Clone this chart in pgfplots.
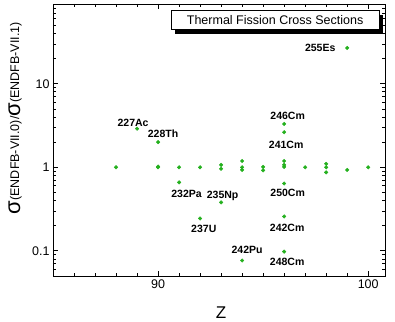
\documentclass[border=0pt]{standalone}
\usepackage{fontspec}
\setmainfont{Liberation Sans}
\usepackage{pgfplots}
\pgfplotsset{compat=1.18}
\usetikzlibrary{shadows}
\definecolor{dotgreen}{RGB}{36,176,30}
\tikzset{lab/.style={font=\bfseries\fontsize{10.5}{12}\selectfont, inner sep=0pt, anchor=center}}

\begin{document}
\begin{tikzpicture}
\useasboundingbox (-53pt,-45pt) rectangle (342pt,276pt);
\begin{axis}[
  at={(0,0)}, anchor=south west,
  scale only axis, width=332pt, height=272pt,
  xmin=85, xmax=100.8,
  ymode=log, ymin=0.05, ymax=90,
  xtick={90,100}, xticklabels={90,100},
  minor xtick={86,87,88,89,91,92,93,94,95,96,97,98,99},
  ytick={0.1,1,10}, yticklabels={0.1,1,10},
  minor ytick={0.06,0.07,0.08,0.09,0.2,0.3,0.4,0.5,0.6,0.7,0.8,0.9,2,3,4,5,6,7,8,9,20,30,40,50,60,70,80},
  tick align=inside,
  major tick length=5pt, minor tick length=3pt,
  every tick/.style={black, line width=0.7pt},
  axis line style={line width=0.9pt},
  tick label style={font=\fontsize{12.5}{14}\selectfont},
  xlabel={Z},
  xlabel style={at={(axis description cs:0.506,-0.136)}, anchor=center, font=\fontsize{17}{18}\selectfont},
  ylabel={{\fontsize{22}{22}\selectfont σ}\raisebox{1pt}{\fontsize{12.5}{13}\selectfont(ENDFB-VII.0)/}{\fontsize{22}{22}\selectfont σ}\raisebox{1pt}{\fontsize{12.5}{13}\selectfont(ENDFB-VII.1)}},
  ylabel style={at={(axis description cs:-0.114,0.58)}, anchor=center},
  clip=false,
]
\addplot[only marks, mark=*, mark size=1.8pt, color=dotgreen] coordinates {
  (88,1.0)
  (89,2.9)
  (90,2.0) (90,1.0) (90,1.02)
  (91,1.0) (91,0.66)
  (92,1.0) (92,0.244)
  (93,1.07) (93,0.96) (93,0.38)
  (94,1.19) (94,1.0) (94,0.93) (94,0.0766)
  (95,1.01) (95,0.92)
  (96,3.3) (96,2.63) (96,1.19) (96,1.07) (96,1.01) (96,0.64) (96,0.258) (96,0.098)
  (97,1.0)
  (98,1.1) (98,1.0) (98,0.87)
  (99,26.8) (99,0.93)
  (100,1.0)
};
\node[lab, xshift=-4pt, yshift=6pt] at (axis cs:89,2.9) {227Ac};
\node[lab, xshift=5pt, yshift=8.7pt] at (axis cs:90,2.0) {228Th};
\node[lab, xshift=-27pt] at (axis cs:99,26.8) {255Es};
\node[lab, xshift=3.5pt, yshift=7.6pt] at (axis cs:96,3.3) {246Cm};
\node[lab, xshift=2pt, yshift=-12.3pt] at (axis cs:96,2.63) {241Cm};
\node[lab, xshift=7.5pt, yshift=-11.6pt] at (axis cs:91,0.66) {232Pa};
\node[lab, xshift=3.7pt, yshift=-10.3pt] at (axis cs:92,0.244) {237U};
\node[lab, xshift=1.5pt, yshift=6.7pt] at (axis cs:93,0.38) {235Np};
\node[lab, xshift=3.5pt, yshift=-9pt] at (axis cs:96,0.64) {250Cm};
\node[lab, xshift=3pt, yshift=-11.6pt] at (axis cs:96,0.258) {242Cm};
\node[lab, xshift=3pt, yshift=-10pt] at (axis cs:96,0.098) {248Cm};
\node[lab, xshift=5pt, yshift=10.4pt] at (axis cs:94,0.0766) {242Pu};
\node[draw, fill=white, line width=0.8pt,
      drop shadow={shadow xshift=4pt, shadow yshift=-4pt, opacity=1, fill=black},
      minimum width=208pt, minimum height=19pt, inner sep=0pt,
      font=\fontsize{12.5}{14}\selectfont]
  at (rel axis cs:0.669,0.941) {Thermal Fission Cross Sections};
\end{axis}
\end{tikzpicture}
\end{document}
